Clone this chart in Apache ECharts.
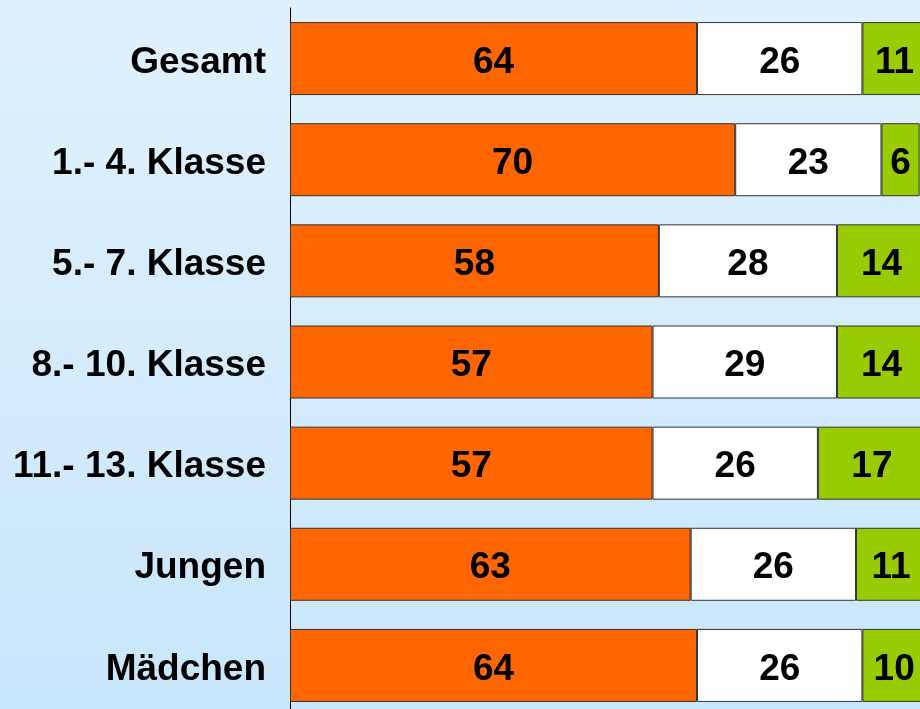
<!DOCTYPE html>
<html>
<head>
<meta charset="utf-8">
<script src="https://cdn.jsdelivr.net/npm/echarts@6/dist/echarts.min.js"></script>
<style>
  html, body { margin: 0; padding: 0; }
  #chart { width: 920px; height: 709px; }
</style>
</head>
<body>
<div id="chart"></div>
<script>
const categories = ['Gesamt', '1.- 4. Klasse', '5.- 7. Klasse', '8.- 10. Klasse', '11.- 13. Klasse', 'Jungen', 'Mädchen'];
const orangeValues = [64, 70, 58, 57, 57, 63, 64];
const whiteValues = [26, 23, 28, 29, 26, 26, 26];
const greenValues = [11, 6, 14, 14, 17, 11, 10];

const chart = echarts.init(document.getElementById('chart'));

const labelStyle = {
  show: true,
  position: 'inside',
  offset: [0, 4],
  color: '#000',
  fontFamily: 'Liberation Sans, Arial, sans-serif',
  fontWeight: 'bold',
  fontSize: 37
};

function makeSeries(name, data, color) {
  return {
    name: name,
    type: 'bar',
    stack: 'total',
    barWidth: 73,
    data: data,
    itemStyle: { color: color, borderColor: '#333', borderWidth: 1 },
    label: labelStyle
  };
}

chart.setOption({
  animation: false,
  backgroundColor: new echarts.graphic.LinearGradient(0, 0, 0, 1, [
    { offset: 0, color: '#e0f1fd' },
    { offset: 1, color: '#c8e6fb' }
  ]),
  grid: { left: 290, top: 8, width: 636, height: 708, outerBoundsMode: 'none', containLabel: false },
  xAxis: {
    type: 'value',
    min: 0,
    max: 100,
    show: false
  },
  yAxis: {
    type: 'category',
    inverse: true,
    data: categories,
    axisLine: { show: true, lineStyle: { color: '#000', width: 1 } },
    axisTick: { show: false },
    axisLabel: {
      margin: 24,
      formatter: (v) => '{c|' + v + '}',
      rich: {
        c: {
          color: '#000',
          fontFamily: 'Liberation Sans, Arial, sans-serif',
          fontWeight: 'bold',
          fontSize: 37,
          padding: [8, 0, 0, 0]
        }
      }
    }
  },
  series: [
    makeSeries('a', orangeValues, '#ff6600'),
    makeSeries('b', whiteValues, '#ffffff'),
    makeSeries('c', greenValues, '#99cc00')
  ]
});
</script>
</body>
</html>
